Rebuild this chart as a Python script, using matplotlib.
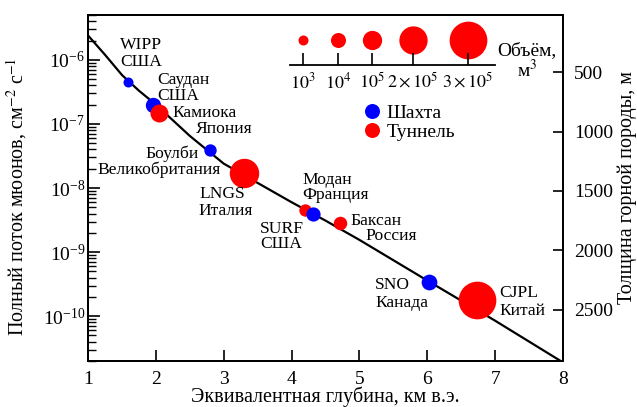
import numpy as np
import matplotlib.pyplot as plt
from matplotlib.lines import Line2D
from matplotlib.ticker import LogLocator, NullFormatter

plt.rcParams['font.family'] = ['Liberation Serif', 'DejaVu Serif']
plt.rcParams['mathtext.fontset'] = 'stix'

# laboratories
labs = ['WIPP', 'Саудан', 'Камиока', 'Боулби', 'LNGS', 'Модан', 'SURF', 'Баксан', 'SNO', 'CJPL']
countries = ['США', 'США', 'Япония', 'Великобритания', 'Италия', 'Франция', 'США', 'Россия', 'Канада', 'Китай']
depth = [1.59, 1.96, 2.05, 2.80, 3.30, 4.20, 4.31, 4.71, 6.02, 6.73]
flux = [4.5e-7, 2.0e-7, 1.5e-7, 3.9e-8, 1.7e-8, 4.6e-9, 4.0e-9, 2.8e-9, 3.4e-10, 1.78e-10]
kind = ['shaft', 'shaft', 'tunnel', 'shaft', 'tunnel', 'tunnel', 'shaft', 'tunnel', 'shaft', 'tunnel']
volume = [1e3, 1.2e4, 5e4, 3e3, 2.1e5, 3e3, 7e3, 5e3, 1.5e4, 3e5]

# flux vs depth curve
curve_x = [1.0, 1.25, 1.5, 1.75, 2.0, 2.5, 3.0, 3.5, 4.0, 4.5, 5.0, 6.0, 7.0, 8.0]
curve_y = [2.4e-6, 1.2e-6, 5.8e-7, 3.3e-7, 2.0e-7, 6.5e-8, 2.4e-8, 1.2e-8, 6.0e-9,
           3.1e-9, 1.55e-9, 3.6e-10, 8.5e-11, 1.9e-11]

legend_vol = [1e3, 1e4, 1e5, 2e5, 3e5]
legend_lbl = ['$10^3$', '$10^4$', '$10^5$', r'$2\times10^5$', r'$3\times10^5$']

rock_ticks = [500, 1000, 1500, 2000, 2500]

# styles
W, H = 637, 407
colors = {'shaft': '#0000ff', 'tunnel': '#ff0000'}
legend_d_px = [10, 15, 19.3, 28.3, 37.7]
legend_x_px = [303, 338, 372, 413, 468]
label_pos = [((120, 43), (120, 60)), ((157, 78), (157, 94)), ((172, 111), (196, 127)),
             ((145, 152), (97, 168)), ((199, 192), (198, 209)), ((302, 178), (302, 193)),
             ((260, 227), (260, 242)), ((350, 219), (365, 234)), ((375, 283), (375, 301)),
             ((499, 291), (499, 309))]
FS = 14


def msize(v):
    return np.interp(np.log10(v), np.log10(legend_vol), legend_d_px) * 0.72


def fxy(px, py):
    return px / W, 1 - py / H


fig = plt.figure(figsize=(W / 100, H / 100), dpi=100)
ax = fig.add_axes([88 / W, 1 - 361 / H, (563 - 88) / W, (361 - 15) / H])

ax.plot(curve_x, curve_y, color='black', lw=1.6, zorder=2)
for x, y, k, v in zip(depth, flux, kind, volume):
    ax.plot(x, y, 'o', color=colors[k], ms=msize(v), mec='none', zorder=3)

ax.set_yscale('log')
ax.set_xlim(1, 8)
ax.set_ylim(2e-11, 5e-6)
ax.set_xticks(range(1, 9))
ax.yaxis.set_major_locator(LogLocator(base=10, numticks=20))
ax.yaxis.set_minor_locator(LogLocator(base=10, subs=np.arange(2, 10), numticks=100))
ax.yaxis.set_minor_formatter(NullFormatter())
ax.tick_params(axis='x', direction='in', length=8, width=1.2, pad=7, labelsize=FS, top=False)
ax.tick_params(axis='y', which='major', direction='in', length=8.5, width=1.2, pad=2,
               labelsize=FS, right=False)
ax.tick_params(axis='y', which='minor', direction='in', length=5.5, width=1.0, right=False)
for s in ax.spines.values():
    s.set_linewidth(1.3)

ax.set_xlabel('Эквивалентная глубина, км в.э.', fontsize=14.5, labelpad=-1)
ax.set_ylabel('Полный поток мюонов, см$^{-2}$ с$^{-1}$', fontsize=14.5)
ax.yaxis.set_label_coords(-0.125, 0.475)

ax2 = ax.twinx()
ax2.set_ylim(2930, 20)
ax2.set_yticks(rock_ticks)
ax2.tick_params(axis='y', direction='in', length=7, width=1.2, pad=8, labelsize=FS)
ax2.set_ylabel('Толщина горной породы, м', fontsize=14.5, labelpad=3)
for s in ax2.spines.values():
    s.set_linewidth(1.3)

# lab names
for (name, country), ((x1, y1), (x2, y2)) in zip(zip(labs, countries), label_pos):
    fig.text(*fxy(x1, y1), name, fontsize=12.6, ha='left', va='center_baseline')
    fig.text(*fxy(x2, y2), country, fontsize=12.6, ha='left', va='center_baseline')

# volume scale
lax = fig.add_axes([290 / W, 1 - 65 / H, 205 / W, 40 / H])
lax.patch.set_visible(False)
for side in ['top', 'left', 'right']:
    lax.spines[side].set_visible(False)
lax.spines['bottom'].set_linewidth(1.3)
lax.set_xlim(290, 495)
lax.set_ylim(0, 40)
lax.set_yticks([])
lax.set_axisbelow(False)
for x, v in zip(legend_x_px, legend_vol):
    lax.plot(x, 25, 'o', color=colors['tunnel'], ms=msize(v), mec='none', clip_on=False)
lax.set_xticks(legend_x_px)
lax.set_xticklabels(legend_lbl)
lax.tick_params(axis='x', direction='in', length=8.6, width=1.2, pad=5, labelsize=13)
fig.text(*fxy(527, 62), 'Объём,\nм$^3$', fontsize=14, ha='center', va='center', linespacing=1.0)

handles = [Line2D([], [], marker='o', ls='none', color=colors['shaft'], ms=10.8, mec='none'),
           Line2D([], [], marker='o', ls='none', color=colors['tunnel'], ms=10.8, mec='none')]
fig.legend(handles, ['Шахта', 'Туннель'], loc='upper left', bbox_to_anchor=fxy(363, 104),
           frameon=False, fontsize=14, handlelength=0.95, handletextpad=0.25,
           labelspacing=0.1, borderpad=0, borderaxespad=0)

fig.savefig('out.png', dpi=100)
